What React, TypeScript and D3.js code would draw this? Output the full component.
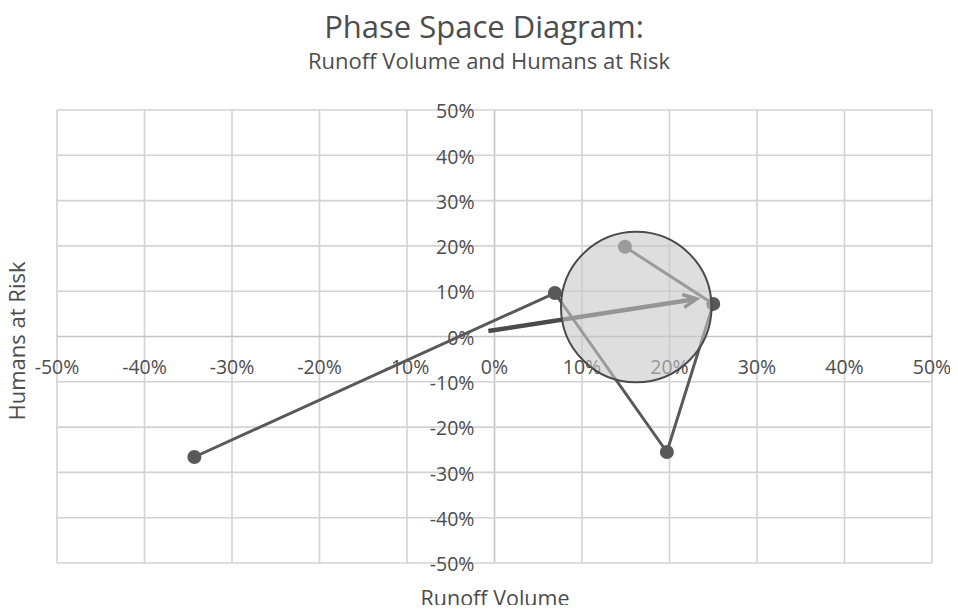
import React, { useEffect, useRef } from 'react';
import * as d3 from 'd3';

// trajectory points (runoff volume %, humans at risk %)
const runoffValues = [-34.3, 6.9, 19.7, 25.0, 14.9];
const riskValues = [-26.6, 9.6, -25.5, 7.2, 19.8];

// resultant arrow and its uncertainty circle
const arrowFrom = [-0.7, 1.2];
const arrowTo = [23.1, 8.3];
const circleCenter = [16.2, 6.5];
const circleRadius = 8.6; // in x-axis percent units

const tickValues = [-50, -40, -30, -20, -10, 0, 10, 20, 30, 40, 50];

const App: React.FC = () => {
    const svgRef = useRef<SVGSVGElement>(null);

    useEffect(() => {
        if (!svgRef.current) return;
        d3.select(svgRef.current).selectAll("*").remove();

        const width = 958;
        const height = 613;
        const plot = { left: 57, right: 932, top: 110, bottom: 563 };
        const font = "Open Sans, sans-serif";
        const textColor = "#4d4d4d";

        const svg = d3.select(svgRef.current)
            .attr("width", width)
            .attr("height", height);

        svg.append("rect").attr("width", width).attr("height", height).attr("fill", "#fff");

        const x = d3.scaleLinear().domain([-50, 50]).range([plot.left, plot.right]);
        const y = d3.scaleLinear().domain([-50, 50]).range([plot.bottom, plot.top]);

        // gridlines
        const grid = svg.append("g");
        grid.selectAll("line.v")
            .data(tickValues)
            .enter()
            .append("line")
            .attr("x1", d => x(d)).attr("x2", d => x(d))
            .attr("y1", plot.top).attr("y2", plot.bottom)
            .attr("stroke", d => d === 0 ? "#c4c4c4" : "#d3d3d3")
            .attr("stroke-width", 1.6);
        grid.selectAll("line.h")
            .data(tickValues)
            .enter()
            .append("line")
            .attr("y1", d => y(d)).attr("y2", d => y(d))
            .attr("x1", plot.left).attr("x2", plot.right)
            .attr("stroke", d => d === 0 ? "#c4c4c4" : "#d3d3d3")
            .attr("stroke-width", 1.6);

        // tick labels
        svg.append("g").selectAll("text")
            .data(tickValues)
            .enter()
            .append("text")
            .attr("x", d => x(d))
            .attr("y", y(0) + 32)
            .attr("text-anchor", "middle")
            .attr("dominant-baseline", "middle")
            .attr("font-family", font)
            .attr("font-size", 19.5)
            .attr("fill", textColor)
            .text(d => `${d}%`);
        svg.append("g").selectAll("text")
            .data(tickValues)
            .enter()
            .append("text")
            .attr("x", x(0) - 20)
            .attr("y", d => y(d) + 3)
            .attr("text-anchor", "end")
            .attr("dominant-baseline", "middle")
            .attr("font-family", font)
            .attr("font-size", 19.5)
            .attr("fill", textColor)
            .text(d => `${d}%`);

        // trajectory
        const pts = runoffValues.map((v, i) => [v, riskValues[i]] as [number, number]);
        const line = d3.line<[number, number]>().x(d => x(d[0])).y(d => y(d[1]));
        svg.append("path")
            .attr("d", line(pts))
            .attr("fill", "none")
            .attr("stroke", "#595959")
            .attr("stroke-width", 3);
        svg.append("g").selectAll("circle")
            .data(pts)
            .enter()
            .append("circle")
            .attr("cx", d => x(d[0]))
            .attr("cy", d => y(d[1]))
            .attr("r", 7)
            .attr("fill", "#595959");

        // arrow
        const ax1 = x(arrowFrom[0]), ay1 = y(arrowFrom[1]);
        const ax2 = x(arrowTo[0]), ay2 = y(arrowTo[1]);
        const ang = Math.atan2(ay2 - ay1, ax2 - ax1);
        svg.append("line")
            .attr("x1", ax1).attr("y1", ay1)
            .attr("x2", ax2 - 2 * Math.cos(ang)).attr("y2", ay2 - 2 * Math.sin(ang))
            .attr("stroke", "#4a4a4a")
            .attr("stroke-width", 4.5);
        const headLen = 15;
        const head = d3.path();
        head.moveTo(ax2 - headLen * Math.cos(ang - 0.45), ay2 - headLen * Math.sin(ang - 0.45));
        head.lineTo(ax2, ay2);
        head.lineTo(ax2 - headLen * Math.cos(ang + 0.45), ay2 - headLen * Math.sin(ang + 0.45));
        svg.append("path")
            .attr("d", head.toString())
            .attr("fill", "none")
            .attr("stroke", "#4a4a4a")
            .attr("stroke-width", 3.5);

        // uncertainty circle over the trajectory
        svg.append("circle")
            .attr("cx", x(circleCenter[0]))
            .attr("cy", y(circleCenter[1]))
            .attr("r", x(circleRadius) - x(0))
            .attr("fill", "rgb(200,200,200)")
            .attr("fill-opacity", 0.6)
            .attr("stroke", "#4a4a4a")
            .attr("stroke-width", 2);

        // titles
        svg.append("text")
            .attr("x", 484).attr("y", 38)
            .attr("text-anchor", "middle")
            .attr("font-family", font)
            .attr("font-size", 31)
            .attr("fill", textColor)
            .text("Phase Space Diagram:");
        svg.append("text")
            .attr("x", 489).attr("y", 69)
            .attr("text-anchor", "middle")
            .attr("font-family", font)
            .attr("font-size", 22)
            .attr("fill", textColor)
            .text("Runoff Volume and Humans at Risk");
        svg.append("text")
            .attr("x", 495).attr("y", 606)
            .attr("text-anchor", "middle")
            .attr("font-family", font)
            .attr("font-size", 21.5)
            .attr("fill", textColor)
            .text("Runoff Volume");
        svg.append("text")
            .attr("transform", `translate(25, 341) rotate(-90)`)
            .attr("text-anchor", "middle")
            .attr("font-family", font)
            .attr("font-size", 22)
            .attr("fill", textColor)
            .text("Humans at Risk");
    }, []);

    return (
        <div style={{ margin: -8 }}>
            <svg ref={svgRef} style={{ display: 'block' }}></svg>
        </div>
    );
};

export default App;
